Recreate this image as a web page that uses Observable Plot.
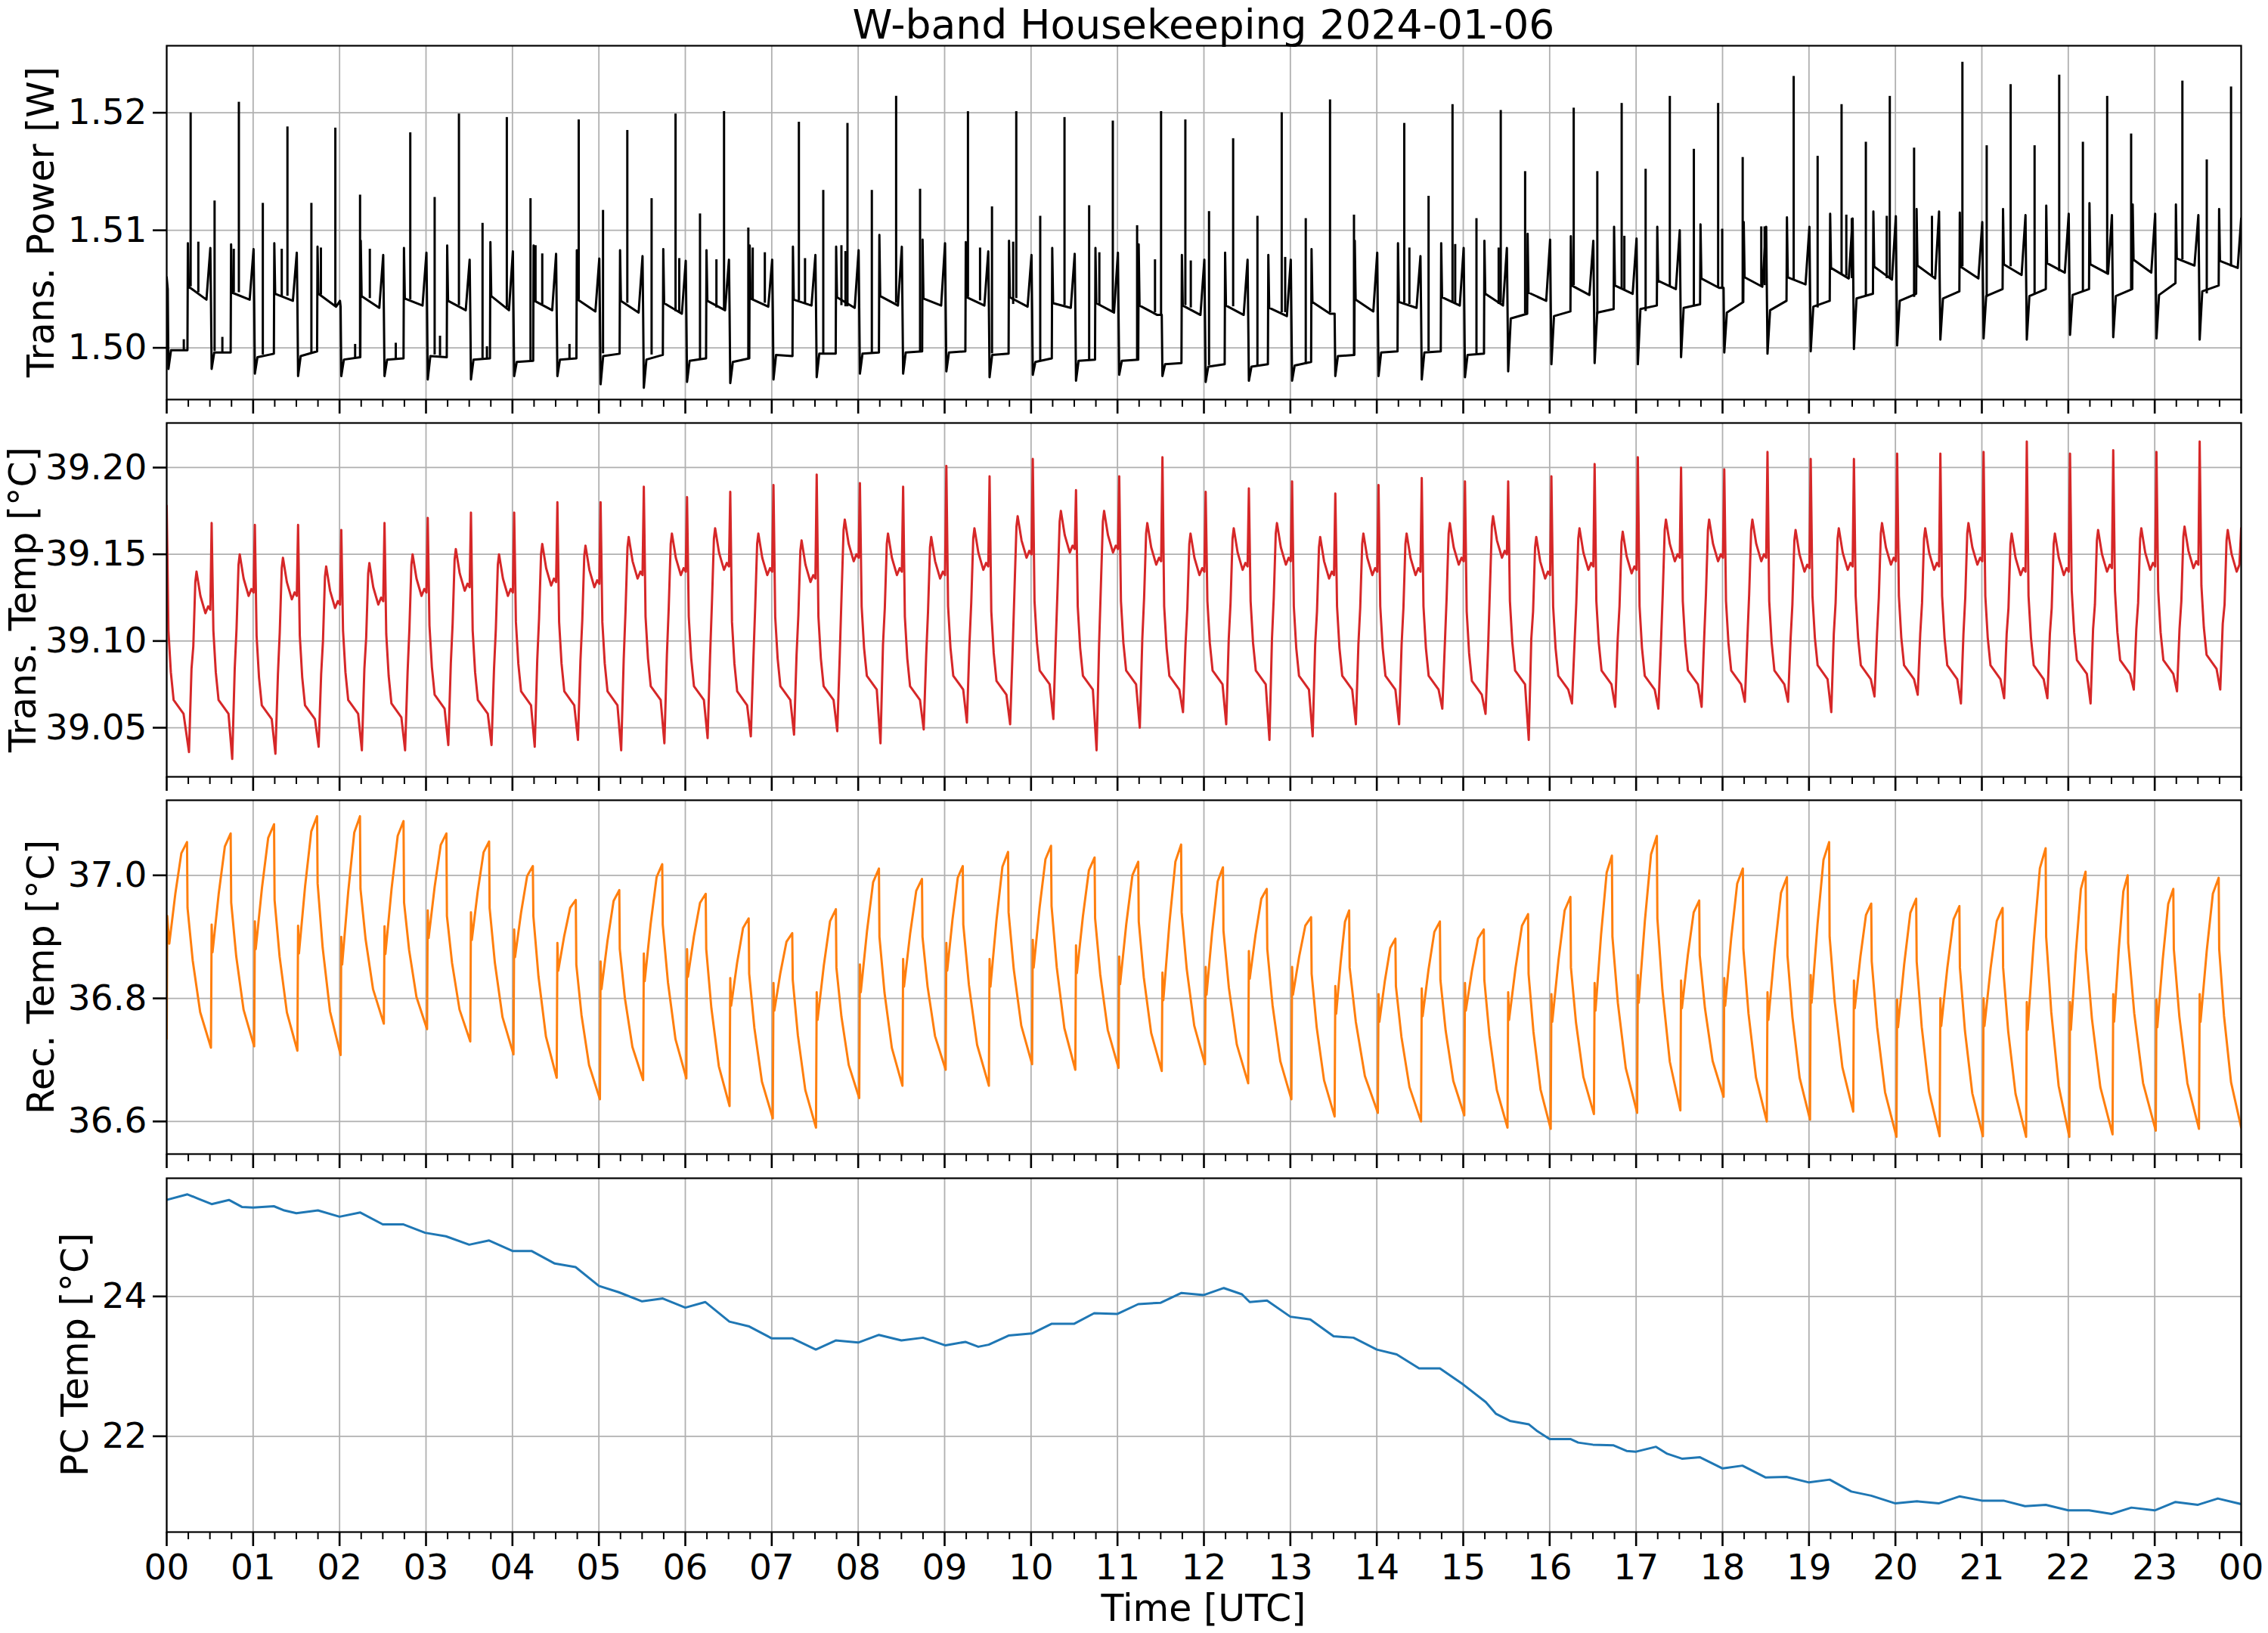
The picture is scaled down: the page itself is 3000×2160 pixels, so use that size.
<!DOCTYPE html>
<html>
<head>
<meta charset="utf-8">
<script src="https://cdn.jsdelivr.net/npm/d3@7"></script>
<script src="https://cdn.jsdelivr.net/npm/@observablehq/plot@0.6"></script>
<style>
html, body { margin: 0; padding: 0; background: #fff; overflow: hidden; }
#fig { position: relative; width: 3000px; height: 2160px; background: #fff; font-family: "DejaVu Sans", sans-serif; }
#fig svg { position: absolute; left: 0; }
</style>
</head>
<body>
<div id="fig"></div>
<script>
// ---------------- DATA ----------------
// time axis: hours of 2024-01-06 UTC
const hourTicks = [0,1,2,3,4,5,6,7,8,9,10,11,12,13,14,15,16,17,18,19,20,21,22,23,24];

// Panel 1: transmitter power [W], per 30-min cycle k (cycle start = 0.5*k h)
const powerStart = [1.5060, 1.5050];
const pD  = [1.4982,1.4982,1.4978,1.4976,1.4976,1.4976,1.4973,1.4973,1.4976,1.4976,1.4969,1.4966,1.4971,1.4970,1.4973,1.4975,1.4978,1.4978,1.4980,1.4975,1.4977,1.4972,1.4977,1.4976,1.4971,1.4972,1.4972,1.4976,1.4976,1.4973,1.4975,1.4980,1.4986,1.4987,1.4986,1.4992,1.4996,1.4995,1.4997,1.4999,1.5002,1.5007,1.5008,1.5007,1.5011,1.5009,1.5008,1.5007];
const pL1 = [1.4998,1.4996,1.4992,1.4993,1.4990,1.4990,1.4993,1.4990,1.4988,1.4990,1.4993,1.4990,1.4989,1.4988,1.4994,1.4995,1.4995,1.4996,1.4996,1.4994,1.4988,1.4989,1.4989,1.4986,1.4984,1.4984,1.4985,1.4993,1.4996,1.4996,1.4994,1.5025,1.5027,1.5030,1.5033,1.5034,1.5030,1.5032,1.5035,1.5042,1.5040,1.5042,1.5044,1.5044,1.5045,1.5044,1.5045,1.5048];
const pL2 = [1.4998,1.4996,1.4995,1.4997,1.4992,1.4991,1.4992,1.4991,1.4989,1.4991,1.4995,1.4994,1.4991,1.4991,1.4993,1.4995,1.4996,1.4997,1.4997,1.4995,1.4991,1.4990,1.4990,1.4987,1.4986,1.4986,1.4988,1.4994,1.4997,1.4997,1.4995,1.5029,1.5031,1.5033,1.5036,1.5037,1.5039,1.5040,1.5040,1.5046,1.5046,1.5048,1.5050,1.5050,1.5050,1.5050,1.5055,1.5053];
const pJ  = [1.5089,1.5088,1.5089,1.5086,1.5091,1.5085,1.5087,1.5090,1.5087,1.5083,1.5083,1.5084,1.5083,1.5087,1.5086,1.5086,1.5096,1.5092,1.5090,1.5091,1.5085,1.5085,1.5088,1.5079,1.5081,1.5079,1.5084,1.5091,1.5089,1.5089,1.5091,1.5097,1.5095,1.5103,1.5103,1.5105,1.5107,1.5111,1.5114,1.5116,1.5118,1.5115,1.5118,1.5121,1.5123,1.5122,1.5122,1.5118];
const pH1 = [1.5052,1.5047,1.5046,1.5046,1.5044,1.5042,1.5040,1.5044,1.5040,1.5041,1.5040,1.5038,1.5040,1.5042,1.5041,1.5043,1.5044,1.5042,1.5043,1.5043,1.5038,1.5038,1.5036,1.5036,1.5036,1.5034,1.5039,1.5041,1.5039,1.5043,1.5046,1.5047,1.5053,1.5053,1.5057,1.5059,1.5060,1.5060,1.5068,1.5069,1.5070,1.5069,1.5071,1.5072,1.5071,1.5075,1.5076,1.5074];
const pH2 = [1.5041,1.5041,1.5040,1.5035,1.5034,1.5036,1.5032,1.5032,1.5032,1.5031,1.5030,1.5029,1.5032,1.5035,1.5036,1.5034,1.5036,1.5036,1.5036,1.5035,1.5034,1.5030,1.5028,1.5028,1.5028,1.5027,1.5029,1.5031,1.5034,1.5036,1.5036,1.5040,1.5045,1.5046,1.5050,1.5051,1.5052,1.5054,1.5059,1.5058,1.5059,1.5059,1.5062,1.5064,1.5063,1.5064,1.5070,1.5068];
const pR  = [1.5085,1.5084,1.5081,1.5040,1.5079,1.5081,1.5075,1.5082,1.5080,1.5076,1.5078,1.5074,1.5075,1.5075,1.5079,1.5083,1.5086,1.5089,1.5082,1.5079,1.5080,1.5081,1.5028,1.5075,1.5075,1.5075,1.5029,1.5081,1.5078,1.5085,1.5085,1.5092,1.5091,1.5093,1.5100,1.5051,1.5103,1.5103,1.5110,1.5112,1.5116,1.5107,1.5113,1.5114,1.5113,1.5114,1.5113,1.5110];
// spikes in the power trace: time [h], top value, base value
const spikeT = [0.277,0.835,1.397,1.951,2.818,3.381,3.935,4.767,5.329,5.887,6.448,7.314,7.876,8.439,9.270,9.829,10.387,10.946,11.504,11.785,12.338,12.900,13.459,14.318,14.876,15.434,16.278,16.833,17.390,17.949,18.823,19.377,19.935,20.775,21.333,21.895,22.450,23.320,23.883,
  0.554,1.112,1.674,2.237,3.100,3.654,4.209,5.048,5.610,6.170,6.729,7.596,8.158,8.716,9.548,10.106,10.672,11.227,12.059,12.619,13.178,13.736,14.599,15.153,15.716,16.551,17.110,17.668,18.233,19.100,19.658,20.216,21.056,21.610,22.169,22.727,23.602,
  0.366,0.776,1.331,1.784,2.350,4.267,4.345,5.930,6.360,6.780,6.920,7.385,7.806,7.853,9.410,9.793,10.790,11.434,11.848,12.940,14.377,14.907,15.410,16.864,17.996,18.448,18.487,19.432,19.495,19.900,20.423,
  0.198,0.644,2.180,2.650,3.162,3.705,4.660];
const spikeTop = [1.5200,1.5209,1.5188,1.5187,1.5183,1.5199,1.5196,1.5194,1.5185,1.5199,1.5201,1.5192,1.5191,1.5214,1.5201,1.5201,1.5196,1.5193,1.5201,1.5194,1.5178,1.5200,1.5211,1.5191,1.5207,1.5202,1.5204,1.5208,1.5214,1.5208,1.5231,1.5207,1.5214,1.5243,1.5224,1.5232,1.5214,1.5227,1.5222,
  1.5125,1.5123,1.5123,1.5130,1.5128,1.5106,1.5127,1.5117,1.5127,1.5114,1.5102,1.5134,1.5134,1.5135,1.5120,1.5112,1.5121,1.5104,1.5116,1.5112,1.5110,1.5113,1.5129,1.5110,1.5150,1.5150,1.5152,1.5169,1.5162,1.5163,1.5175,1.5170,1.5172,1.5172,1.5175,1.5182,1.5160,
  1.5090,1.5084,1.5084,1.5085,1.5084,1.5087,1.5080,1.5076,1.5075,1.5085,1.5081,1.5076,1.5087,1.5082,1.5085,1.5090,1.5081,1.5075,1.5074,1.5077,1.5085,1.5088,1.5085,1.5095,1.5101,1.5103,1.5103,1.5113,1.5110,1.5112,1.5112,
  1.5007,1.5009,1.5003,1.5004,1.5010,1.5001,1.5003];
const spikeBase = [1.5052,1.5047,1.5044,1.5036,1.5041,1.5036,1.5034,1.5041,1.5038,1.5031,1.5033,1.5040,1.5035,1.5038,1.5043,1.5042,1.5036,1.5031,1.5028,1.5036,1.5035,1.5030,1.5030,1.5038,1.5038,1.5038,1.5053,1.5050,1.5052,1.5051,1.5058,1.5062,1.5059,1.5069,1.5069,1.5065,1.5064,1.5075,1.5069,
  1.4997,1.4994,1.4995,1.4992,1.4994,1.4991,1.4989,1.4995,1.4994,1.4990,1.4991,1.4995,1.4995,1.4997,1.4995,1.4989,1.4990,1.4990,1.4985,1.4985,1.4986,1.4994,1.4997,1.4995,1.5029,1.5028,1.5031,1.5036,1.5039,1.5034,1.5044,1.5043,1.5043,1.5046,1.5048,1.5050,1.5046,
  1.5047,1.5047,1.5044,1.5045,1.5042,1.5039,1.5037,1.5030,1.5034,1.5041,1.5038,1.5038,1.5036,1.5035,1.5040,1.5037,1.5036,1.5030,1.5034,1.5030,1.5037,1.5038,1.5037,1.5049,1.5051,1.5053,1.5053,1.5061,1.5059,1.5059,1.5061,
  1.4998,1.4996,1.4991,1.4990,1.4993,1.4990,1.4990];

// Panel 2: transmitter temperature [°C], per cycle: spike, low level, minimum, plateau
const rS = [39.178,39.168,39.167,39.167,39.164,39.168,39.171,39.174,39.174,39.180,39.180,39.189,39.183,39.186,39.190,39.196,39.191,39.189,39.201,39.195,39.205,39.187,39.195,39.206,39.186,39.188,39.192,39.185,39.190,39.194,39.192,39.192,39.195,39.202,39.206,39.200,39.199,39.209,39.205,39.205,39.208,39.208,39.209,39.215,39.208,39.210,39.209,39.215];
const rL = [39.064,39.064,39.061,39.061,39.064,39.062,39.067,39.064,39.069,39.069,39.069,39.072,39.072,39.069,39.072,39.072,39.078,39.072,39.078,39.075,39.081,39.078,39.081,39.078,39.081,39.081,39.078,39.078,39.078,39.078,39.075,39.081,39.078,39.081,39.078,39.081,39.081,39.081,39.084,39.084,39.084,39.084,39.084,39.084,39.087,39.087,39.087,39.090];
const rM = [39.036,39.032,39.035,39.039,39.037,39.037,39.040,39.040,39.039,39.043,39.037,39.041,39.044,39.045,39.046,39.048,39.041,39.049,39.053,39.052,39.055,39.037,39.050,39.059,39.052,39.043,39.045,39.052,39.052,39.061,39.058,39.043,39.064,39.062,39.061,39.062,39.065,39.065,39.059,39.068,39.069,39.064,39.067,39.067,39.064,39.072,39.071,39.072];
const rP = [39.140,39.150,39.148,39.143,39.145,39.150,39.153,39.150,39.156,39.155,39.160,39.162,39.165,39.162,39.158,39.170,39.162,39.160,39.165,39.172,39.175,39.175,39.168,39.162,39.165,39.168,39.160,39.162,39.162,39.168,39.172,39.160,39.165,39.163,39.170,39.170,39.170,39.164,39.165,39.168,39.165,39.168,39.162,39.162,39.164,39.165,39.166,39.164];
const rEnd = 39.165;
// typical cycle shape read from the 00:30-01:00 cycle: [hours after cycle start, offset from the cycle level]
const redDecay   = [[0.040, 0.042], [0.068, 0.018], [0.100, 0.002], [0.215, -0.006]]; // relative to low level
const redRise    = [[0.287, 0.020]];                                                   // relative to low level
const redPlateau = [[0.308, -0.043], [0.331, -0.006], [0.345, 0], [0.390, -0.014], [0.448, -0.024], [0.480, -0.020], [0.505, -0.022]]; // relative to plateau
const redMinT = 0.258;

// Panel 3: receiver temperature [°C], per cycle: trough, value after jump, peak time, peak, value after drop
const oT = [36.734,36.720,36.722,36.715,36.708,36.759,36.750,36.730,36.709,36.671,36.636,36.667,36.670,36.625,36.605,36.590,36.638,36.658,36.684,36.658,36.693,36.684,36.687,36.682,36.693,36.662,36.636,36.608,36.614,36.600,36.610,36.590,36.588,36.612,36.614,36.618,36.640,36.600,36.603,36.616,36.575,36.576,36.576,36.575,36.575,36.579,36.585,36.588];
const oJ = [36.934,36.920,36.925,36.918,36.900,36.917,36.943,36.940,36.912,36.890,36.860,36.873,36.880,36.833,36.825,36.810,36.855,36.864,36.890,36.864,36.895,36.886,36.868,36.842,36.851,36.877,36.851,36.820,36.807,36.816,36.825,36.810,36.807,36.825,36.838,36.829,36.833,36.810,36.838,36.829,36.798,36.800,36.800,36.794,36.794,36.807,36.798,36.807];
const oPT = [0.235,0.740,1.242,1.740,2.236,2.740,3.236,3.730,4.236,4.733,5.236,5.733,6.236,6.733,7.237,7.742,8.240,8.738,9.210,9.734,10.231,10.735,11.240,11.736,12.220,12.727,13.240,13.680,14.215,14.730,15.238,15.750,16.240,16.720,17.240,17.730,18.235,18.745,19.233,19.720,20.240,20.740,21.240,21.738,22.200,22.687,23.215,23.740];
const oP = [37.054,37.068,37.083,37.096,37.096,37.088,37.068,37.055,37.015,36.960,36.976,37.018,36.970,36.930,36.906,36.945,37.011,36.994,37.015,37.038,37.048,37.029,37.022,37.050,37.013,36.978,36.932,36.943,36.897,36.925,36.912,36.937,36.965,37.032,37.064,36.959,37.011,36.997,37.054,36.954,36.962,36.950,36.947,37.044,37.006,37.000,36.978,36.996];
const oDr = [36.947,36.956,36.960,36.987,36.978,36.956,36.934,36.947,36.934,36.855,36.880,36.920,36.880,36.840,36.830,36.850,36.900,36.900,36.920,36.940,36.950,36.930,36.925,36.940,36.910,36.880,36.840,36.850,36.820,36.830,36.830,36.840,36.850,36.900,36.930,36.870,36.880,36.870,36.900,36.860,36.860,36.850,36.850,36.900,36.880,36.890,36.880,36.880];
const oEnd = 36.590;
// typical cycle shape read from the 00:30-01:00 cycle: [fraction of the time span, fraction of the value change]
const recRise = [[0.34, 0.49], [0.68, 0.89]];
const recFall = [[0.22, 0.375], [0.54, 0.746]];

// Panel 4: PC temperature [°C]
const pcT = [0,0.24,0.36,0.52,0.72,0.87,1.0,1.24,1.36,1.5,1.75,2.0,2.24,2.5,2.74,2.99,3.23,3.5,3.73,4.0,4.22,4.49,4.73,5.0,5.23,5.5,5.74,6.0,6.23,6.51,6.74,7.0,7.24,7.51,7.74,8.0,8.24,8.5,8.75,9.01,9.24,9.39,9.51,9.74,10.01,10.24,10.5,10.73,11.0,11.24,11.5,11.74,12.0,12.23,12.44,12.53,12.73,13.0,13.23,13.5,13.73,14.0,14.23,14.49,14.73,15.0,15.26,15.38,15.54,15.76,15.85,16.0,16.24,16.33,16.5,16.74,16.89,17.0,17.23,17.36,17.53,17.74,18.0,18.23,18.5,18.74,19.0,19.24,19.49,19.72,20.0,20.25,20.5,20.74,21.0,21.25,21.5,21.74,22.0,22.24,22.5,22.73,23.0,23.24,23.5,23.73,24.0];
const pcV = [25.38,25.46,25.40,25.32,25.38,25.28,25.27,25.29,25.23,25.19,25.23,25.14,25.20,25.03,25.03,24.91,24.86,24.74,24.80,24.65,24.65,24.47,24.42,24.15,24.06,23.93,23.97,23.84,23.92,23.64,23.57,23.40,23.40,23.24,23.37,23.34,23.45,23.37,23.41,23.30,23.35,23.28,23.31,23.44,23.47,23.61,23.61,23.76,23.75,23.89,23.91,24.05,24.02,24.12,24.03,23.92,23.94,23.71,23.67,23.43,23.41,23.24,23.17,22.97,22.97,22.74,22.49,22.32,22.22,22.17,22.08,21.96,21.96,21.91,21.88,21.87,21.79,21.78,21.85,21.75,21.68,21.70,21.54,21.58,21.41,21.42,21.34,21.38,21.21,21.15,21.04,21.07,21.04,21.14,21.08,21.08,21.00,21.02,20.94,20.94,20.89,20.98,20.94,21.06,21.02,21.11,21.03];

// y axes
const yDomains = [[1.4956, 1.5257], [39.0217, 39.2257], [36.547, 37.122], [20.63, 25.69]];
const yTickSets = [[1.50, 1.51, 1.52], [39.05, 39.10, 39.15, 39.20], [36.6, 36.8, 37.0], [22, 24]];
const yTickDigits = [2, 2, 1, 0];
const yLabels = ["Trans. Power [W]", "Trans. Temp [°C]", "Rec. Temp [°C]", "PC Temp [°C]"];
const titleText = "W-band Housekeeping 2024-01-06";
const xLabelText = "Time [UTC]";

// ---------------- build line tables from the read values ----------------
const N = 48;
function powerTable() {
  const pts = [{t: 0, v: powerStart[0]}, {t: 0.012, v: powerStart[1]}];
  for (let k = 0; k < N; k++) {
    const c = 0.5 * k;
    pts.push({t: c + 0.02, v: pD[k]}, {t: c + 0.05, v: pL1[k]}, {t: c + 0.24, v: pL2[k]},
             {t: c + 0.245, v: pJ[k]}, {t: c + 0.255, v: pH1[k]}, {t: c + 0.46, v: pH2[k]});
    if (k < N - 1) pts.push({t: c + 0.505, v: pR[k]}, {t: c + 0.512, v: pH2[k]});
    else pts.push({t: 24, v: pR[k]});
  }
  return pts;
}
function transTempTable() {
  const pts = [];
  for (let k = 0; k < N; k++) {
    const c = 0.5 * k, shift = k === 0 ? -0.02 : 0;
    pts.push({t: c + 0.02 + shift, v: rS[k]});
    for (const [dt, dv] of redDecay) pts.push({t: c + dt + shift, v: rL[k] + dv});
    pts.push({t: c + redMinT, v: rM[k]});
    for (const [dt, dv] of redRise) pts.push({t: c + dt, v: rL[k] + dv});
    const plateau = k === N - 1 ? redPlateau.slice(0, -1) : redPlateau;
    for (const [dt, dv] of plateau) pts.push({t: c + dt, v: rP[k] + dv});
  }
  pts.push({t: 24, v: rEnd});
  return pts;
}
function recTempTable() {
  const pts = [];
  for (let k = 0; k < N; k++) {
    const c = 0.5 * k;
    const dipT = c + 0.03, dipV = oJ[k] - 0.045;
    pts.push({t: k === 0 ? 0 : c + 0.012, v: oT[k]}, {t: k === 0 ? 0.006 : c + 0.02, v: oJ[k]}, {t: dipT, v: dipV});
    for (const [ft, fv] of recRise) pts.push({t: dipT + ft * (oPT[k] - dipT), v: dipV + fv * (oP[k] - dipV)});
    pts.push({t: oPT[k], v: oP[k]}, {t: oPT[k] + 0.006, v: oDr[k]});
    const endT = k === N - 1 ? 24 : c + 0.512, endV = k === N - 1 ? oEnd : oT[k + 1];
    const t0 = oPT[k] + 0.006;
    for (const [ft, fv] of recFall) pts.push({t: t0 + ft * (endT - t0), v: oDr[k] + fv * (endV - oDr[k])});
  }
  pts.push({t: 24, v: oEnd});
  return pts;
}
const pcTable = pcT.map((t, i) => ({t, v: pcV[i]}));
const spikes = spikeT.map((t, i) => ({t, top: spikeTop[i], base: spikeBase[i]}));

// ---------------- layout ----------------
const fig = document.getElementById("fig");
const W = 3000, ML = 220, MR = 36, PH = 468;
const panelTops = [59.6, 559.0, 1058.4, 1557.8];
const GRID = "#b0b0b0";
const LW = 3;
const quarterTicks = d3.range(0, 24.01, 0.25).filter(d => Math.abs(d - Math.round(d)) > 1e-6);
const hourFmt = d => String(Math.round(d) % 24).padStart(2, "0");

const seriesMarks = [
  [Plot.line(powerTable(), {x: "t", y: "v", stroke: "black", strokeWidth: LW, clip: true}),
   Plot.ruleX(spikes, {x: "t", y1: "base", y2: "top", stroke: "black", strokeWidth: LW, clip: true})],
  [Plot.line(transTempTable(), {x: "t", y: "v", stroke: "#d62728", strokeWidth: LW, clip: true})],
  [Plot.line(recTempTable(), {x: "t", y: "v", stroke: "#ff7f0e", strokeWidth: LW, clip: true})],
  [Plot.line(pcTable, {x: "t", y: "v", stroke: "#1f77b4", strokeWidth: LW, clip: true})]
];

for (let i = 0; i < 4; i++) {
  const last = i === 3;
  const mt = 12, mb = last ? 100 : 30;
  const svg = Plot.plot({
    width: W, height: PH + mt + mb,
    marginLeft: ML, marginRight: MR, marginTop: mt, marginBottom: mb,
    style: {fontFamily: "DejaVu Sans", fontSize: "47px", background: "transparent", overflow: "visible", color: "black"},
    x: {domain: [0, 24], label: null},
    y: {domain: yDomains[i], label: null},
    marks: [
      Plot.gridX(hourTicks, {stroke: GRID, strokeOpacity: 1, strokeWidth: 1.8}),
      Plot.gridY(yTickSets[i], {stroke: GRID, strokeOpacity: 1, strokeWidth: 1.8}),
      ...seriesMarks[i],
      Plot.frame({stroke: "black", strokeWidth: 2.2}),
      Plot.axisX(quarterTicks, {tickSize: 10, strokeWidth: 2, tickFormat: () => "", label: null}),
      Plot.axisX(hourTicks, {tickSize: 19, tickPadding: 10, strokeWidth: 2.6, tickFormat: last ? hourFmt : () => "", label: null, fontSize: 47}),
      Plot.axisY(yTickSets[i], {tickSize: 18, tickPadding: 8, strokeWidth: 2.6, tickFormat: d => d.toFixed(yTickDigits[i]), label: null, fontSize: 47})
    ]
  });
  svg.style.position = "absolute";
  svg.style.left = "0px";
  svg.style.top = (panelTops[i] - mt) + "px";
  fig.appendChild(svg);
}

// ---------------- text overlay: title, axis labels ----------------
const ns = "http://www.w3.org/2000/svg";
const ov = document.createElementNS(ns, "svg");
ov.setAttribute("width", W); ov.setAttribute("height", 2160);
ov.style.position = "absolute"; ov.style.left = "0px"; ov.style.top = "0px";
ov.setAttribute("font-family", "DejaVu Sans");
function addText(str, x, y, size, rotate) {
  const t = document.createElementNS(ns, "text");
  t.textContent = str;
  t.setAttribute("text-anchor", "middle");
  t.setAttribute("font-size", size);
  t.setAttribute("fill", "black");
  t.setAttribute("transform", `translate(${x},${y})` + (rotate ? " rotate(-90)" : ""));
  ov.appendChild(t);
}
const plotCenterX = (ML + (W - MR)) / 2;
addText(titleText, plotCenterX, 50.5, 53.5, false);
addText(xLabelText, plotCenterX, 2143.5, 49, false);
const labelBaselineX = [71, 47, 71, 116];
for (let i = 0; i < 4; i++) addText(yLabels[i], labelBaselineX[i], panelTops[i] + PH / 2, 49, true);
fig.appendChild(ov);
</script>
</body>
</html>
